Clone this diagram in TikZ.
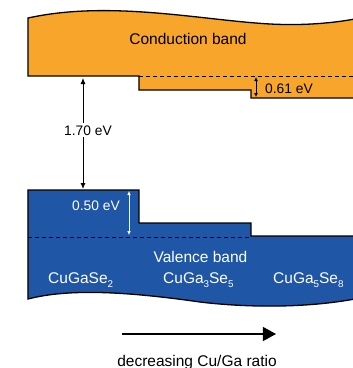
\documentclass[tikz,border=0pt]{standalone}
\usepackage{fontspec}
\setmainfont{Liberation Sans}
\usetikzlibrary{arrows.meta}
\definecolor{cborange}{HTML}{F7A52B}
\definecolor{vbblue}{HTML}{1F56A6}
\newcommand\subs[1]{\raisebox{-4pt}{\fontsize{9.8}{10}\selectfont #1}}
\tikzset{
  band/.style={line width=1.3pt, line join=miter},
  dashline/.style={dashed, dash pattern=on 4pt off 3pt, line width=0.8pt},
  big/.style={font=\fontsize{15.5}{18}\selectfont, inner sep=0pt},
  small/.style={font=\fontsize{13.8}{16}\selectfont, inner sep=0pt},
  gap/.style={{Latex[length=6pt,width=5pt]}-{Latex[length=6pt,width=5pt]}, line width=0.9pt}
}
\begin{document}
\begin{tikzpicture}[x=1pt,y=-1pt]
\clip (0,0) rectangle (353,368);
\fill[white] (0,0) rectangle (353,368);
% conduction band
\fill[cborange] (28,18) .. controls (110,0) and (200,20) .. (270,24) .. controls (310,26) and (340,22) .. (360,18)
  -- (360,98) -- (251,98) -- (251,90) -- (139,90) -- (139,76) -- (28,76) -- cycle;
\draw[band] (360,18) .. controls (340,22) and (310,26) .. (270,24) .. controls (200,20) and (110,0) .. (28,18)
  -- (28,76) -- (139,76) -- (139,90) -- (251,90) -- (251,98) -- (360,98);
\draw[dashline] (139,76) -- (360,76);
% valence band
\fill[vbblue] (28,190) -- (139,190) -- (139,223) -- (251,223) -- (251,236) -- (360,236) -- (360,298)
  .. controls (310,308) and (250,308) .. (200,302) .. controls (130,292) and (70,288) .. (28,299) -- cycle;
\draw[band] (360,236) -- (251,236) -- (251,223) -- (139,223) -- (139,190) -- (28,190) -- (28,299)
  .. controls (70,288) and (130,292) .. (200,302) .. controls (250,308) and (310,308) .. (360,298);
\draw[dashline] (28,237) -- (251,237);
% gaps
\coordinate (cbbot) at (83,78);
\coordinate (vbtop) at (83,189);
\draw[gap] (cbbot) -- (vbtop);
\node[small, fill=white, inner sep=2pt, anchor=base] (eg) at (88,135) {1.70 eV};
\coordinate (cbo1) at (256,77);
\coordinate (cbo2) at (256,97);
\draw[{Latex[length=4pt,width=4pt]}-{Latex[length=4pt,width=4pt]}, line width=0.8pt] (cbo1) -- (cbo2);
\node[small, anchor=base west] (cbl) at (265,93) {0.61 eV};
\coordinate (vbo1) at (129,191);
\coordinate (vbo2) at (129,235);
\draw[white, {Latex[length=4pt,width=3.5pt]}-{Latex[length=4pt,width=3.5pt]}, line width=0.6pt] (vbo1) -- (vbo2);
\node[small, white, anchor=base west] (vbl) at (72,210) {0.50 eV};
% labels
\node[big, anchor=base] (cbname) at (188,44) {Conduction band};
\node[big, white, anchor=base] (vbname) at (200.5,262) {Valence band};
\node[big, white, anchor=base west] (m1) at (48,283) {CuGaSe\subs{2}};
\node[big, white, anchor=base west] (m2) at (163,283) {CuGa\subs{3}Se\subs{5}};
\node[big, white, anchor=base west] (m3) at (273,283) {CuGa\subs{5}Se\subs{8}};
% direction arrow
\coordinate (d1) at (122,334);
\coordinate (d2) at (276,334);
\draw[-{Triangle[length=13pt,width=14pt]}, line width=1.2pt] (d1) -- (d2);
\node[big, anchor=base] (dir) at (197,366) {decreasing Cu/Ga ratio};
\end{tikzpicture}
\end{document}
